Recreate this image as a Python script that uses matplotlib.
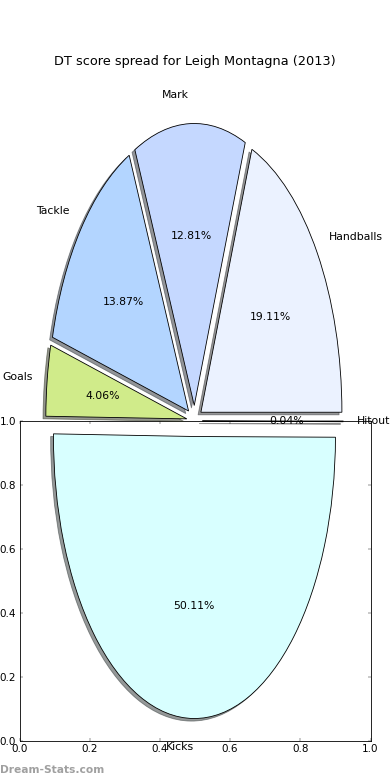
import matplotlib
matplotlib.use("Agg")
import matplotlib.pyplot as plt

labels = ["Handballs", "Mark", "Tackle", "Goals", "Kicks", "Hitout"]
values = [19.11, 12.81, 13.87, 4.06, 50.11, 0.04]
colors = ["#EBF2FF", "#C5D8FF", "#B3D5FF", "#D0EB8A", "#D8FFFF", "#FFFFFF"]
explode = [0.055] * len(values)
title = "DT score spread for Leigh Montagna (2013)"
ticks = [0.0, 0.2, 0.4, 0.6, 0.8, 1.0]

plt.rcParams['font.family'] = ['DejaVu Sans']
plt.rcParams['font.size'] = 12

fig = plt.figure(figsize=(6.5, 13), dpi=60)

# lower, empty frame axes
ax0 = fig.add_axes([0.05, 0.05, 0.9, 0.41], zorder=0)
ax0.set_xlim(0, 1)
ax0.set_ylim(0, 1)
ax0.set_xticks(ticks)
ax0.set_yticks(ticks)
ax0.tick_params(direction='in', top=True, right=True, length=4, width=0.5,
                labelsize=12.5, pad=4)
for s in ax0.spines.values():
    s.set_linewidth(1.0)

# pie axes covering whole figure
ax = fig.add_axes([0, 0, 1, 1], zorder=1)
ax.patch.set_visible(False)
ax.set_axis_off()
wedges, texts, autotexts = ax.pie(
    values, labels=labels, colors=colors, explode=explode,
    autopct='%1.2f%%', pctdistance=0.6, labeldistance=1.1,
    shadow={'ox': -0.024, 'oy': -0.011, 'shade': 0.8}, startangle=0,
    wedgeprops={'edgecolor': 'black', 'linewidth': 1.0},
    textprops={'fontsize': 13})
ax.set_aspect('auto')
ax.set_xlim(-194.5 / 141, (390 - 194.5) / 141)
ax.set_ylim(-359.0 / 282, 421.0 / 282)

fig.text(0.5, 1 - 61 / 780, title, ha='center', va='center', fontsize=15.5)
fig.text(0.0, 1 - 770 / 780, "Dream-Stats.com", ha='left', va='center',
         fontsize=12.8, fontweight='bold', color='#A0A0A0')

fig.savefig("out.png", dpi=60)
